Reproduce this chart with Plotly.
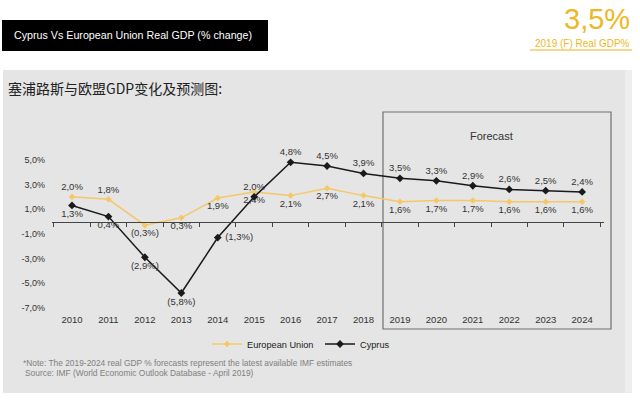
import plotly.graph_objects as go

years = list(range(2010, 2025))
eu_growth = [2.0, 1.8, -0.3, 0.3, 1.9, 2.4, 2.1, 2.7, 2.1, 1.6, 1.7, 1.7, 1.6, 1.6, 1.6]
cyprus_growth = [1.3, 0.4, -2.9, -5.8, -1.3, 2.0, 4.8, 4.5, 3.9, 3.5, 3.3, 2.9, 2.6, 2.5, 2.4]
eu_label_pos = ["top center", "top center"] + ["bottom center"] * 13
cy_label_pos = ["bottom center"] * 4 + ["middle right"] + ["top center"] * 10
y_ticks = [5, 3, 1, -1, -3, -5, -7]
forecast_start, forecast_end = 2019, 2024


def fmt(v):
    s = f"{abs(v):.1f}".replace(".", ",") + "%"
    return f"({s})" if v < 0 else s


# pixel helpers for decoration placement
L, R, T, B = 52, 604, 100, 312
W, H = 640, 403


def px(x):
    return (x - L) / (R - L)


def py(y):
    return (B - y) / (B - T)


GOLD_LINE = "#F4C869"
GOLD_TXT = "#EDB823"
FONT = "Liberation Sans, Arial, sans-serif"

fig = go.Figure()
fig.add_trace(go.Scatter(
    x=years, y=eu_growth, name="European Union", mode="lines+markers+text",
    line=dict(color=GOLD_LINE, width=1.5),
    marker=dict(symbol="diamond", size=5, color=GOLD_LINE),
    text=[fmt(v) for v in eu_growth], textposition=eu_label_pos,
    textfont=dict(size=9.5, color="#333333", family=FONT),
    cliponaxis=False, hoverinfo="skip",
))
fig.add_trace(go.Scatter(
    x=years, y=cyprus_growth, name="Cyprus", mode="lines+markers+text",
    line=dict(color="#1a1a1a", width=1.5),
    marker=dict(symbol="diamond", size=6, color="#1a1a1a"),
    text=[(" " + fmt(v) if p == "middle right" else fmt(v)) for v, p in zip(cyprus_growth, cy_label_pos)],
    textposition=cy_label_pos,
    textfont=dict(size=9.5, color="#333333", family=FONT),
    cliponaxis=False, hoverinfo="skip",
))
# invisible trace to register the zero-line axis
fig.add_trace(go.Scatter(x=[years[0]], y=[0], xaxis="x2", mode="markers",
                         marker=dict(opacity=0), showlegend=False, hoverinfo="skip"))

xr = [years[0] - 0.549, years[-1] + 0.6]
yr = [(221.5 - B) / 12.33, (221.5 - T) / 12.33]

shapes = [
    dict(type="rect", xref="paper", yref="paper", x0=px(3), x1=px(625), y0=py(393), y1=py(70),
         fillcolor="#E5E5E5", line=dict(width=0), layer="below"),
    dict(type="rect", xref="paper", yref="paper", x0=px(625), x1=px(632), y0=py(393), y1=py(70),
         fillcolor="#EEEEEE", line=dict(width=0), layer="below"),
    dict(type="rect", xref="paper", yref="paper", x0=px(2), x1=px(268), y0=py(51), y1=py(20),
         fillcolor="#000000", line=dict(width=0), layer="below"),
    dict(type="line", xref="paper", yref="paper", x0=px(530), x1=px(632), y0=py(50), y1=py(50),
         line=dict(color=GOLD_LINE, width=1.5)),
    dict(type="rect", xref="paper", yref="paper", x0=px(383), x1=px(611),
         y0=py(329), y1=py(112), line=dict(color="#707070", width=1.2), layer="below"),
]

annotations = [
    dict(text="Cyprus Vs European Union Real GDP (% change)", xref="paper", yref="paper",
         x=px(12), y=py(35.5), xanchor="left", yanchor="middle", showarrow=False,
         font=dict(size=10.7, color="#ffffff", family=FONT)),
    dict(text="3,5%", xref="paper", yref="paper", x=px(632), y=py(19), xanchor="right",
         yanchor="middle", showarrow=False, font=dict(size=29, color=GOLD_TXT, family=FONT)),
    dict(text="2019 (F) Real GDP%", xref="paper", yref="paper", x=px(632), y=py(43),
         xanchor="right", yanchor="middle", showarrow=False,
         font=dict(size=10, color=GOLD_TXT, family=FONT)),
    dict(text="塞浦路斯与欧盟GDP变化及预测图:", xref="paper", yref="paper", x=px(6), y=py(88),
         xanchor="left", yanchor="middle", showarrow=False,
         font=dict(size=14, color="#222222", family="Noto Sans CJK SC")),
    dict(text="Forecast", xref="x", yref="paper", x=(forecast_start + forecast_end) / 2, y=py(136),
         xanchor="center", yanchor="middle", showarrow=False,
         font=dict(size=11, color="#333333", family=FONT)),
    dict(text="*Note: The 2019-2024 real GDP % forecasts represent the latest available IMF estimates",
         xref="paper", yref="paper", x=px(21), y=py(363), xanchor="left", yanchor="middle",
         showarrow=False, font=dict(size=8.4, color="#808080", family=FONT)),
    dict(text="Source: IMF (World Economic Outlook Database - April 2019)",
         xref="paper", yref="paper", x=px(23), y=py(373), xanchor="left", yanchor="middle",
         showarrow=False, font=dict(size=8.4, color="#808080", family=FONT)),
]

fig.update_layout(
    width=W, height=H,
    margin=dict(l=L, r=W - R, t=T, b=H - B),
    paper_bgcolor="#ffffff", plot_bgcolor="rgba(0,0,0,0)",
    font=dict(family=FONT, color="#333333"),
    shapes=shapes, annotations=annotations,
    xaxis=dict(range=xr, tickvals=years, ticktext=[str(y) for y in years], showgrid=False,
               zeroline=False, showline=False, ticks="", tickfont=dict(size=9.5, color="#333333")),
    xaxis2=dict(range=xr, overlaying="x", anchor="free", position=py(221.5), side="bottom",
                showline=True, linecolor="#444444", linewidth=1, ticks="outside", ticklen=4,
                tickcolor="#444444", tickvals=[y - 0.5 for y in years] + [years[-1] + 0.5],
                showticklabels=False, showgrid=False, zeroline=False),
    yaxis=dict(range=yr, tickvals=y_ticks, ticktext=[f"{v:.1f}".replace(".", ",") + "%" for v in y_ticks],
               showgrid=False, zeroline=False, showline=False, ticks="", ticklabelstandoff=6,
               tickfont=dict(size=9, color="#333333")),
    showlegend=True,
    legend=dict(orientation="h", x=px(207), y=py(344), xanchor="left", yanchor="middle",
                bgcolor="rgba(0,0,0,0)", font=dict(size=9.2, color="#222222", family=FONT),
                entrywidth=68, entrywidthmode="pixels", traceorder="normal"),
)

fig.write_html("out.html", config={"displayModeBar": False},
               post_script="document.body.style.margin='0px';")
